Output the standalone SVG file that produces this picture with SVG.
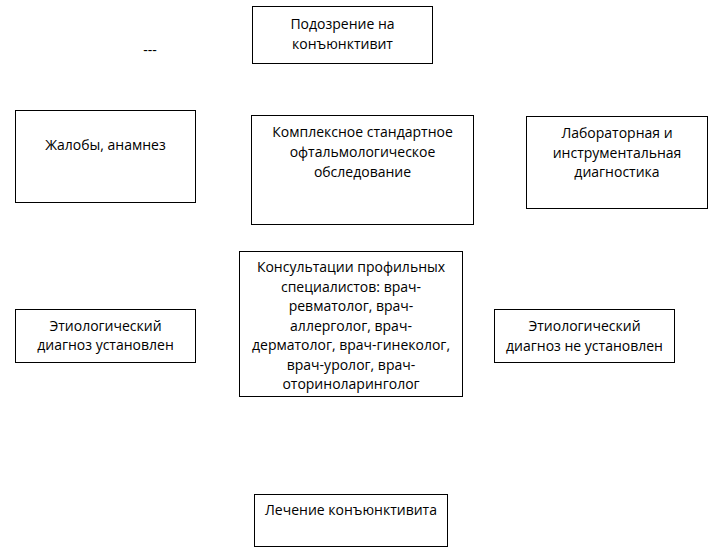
<svg xmlns="http://www.w3.org/2000/svg" width="715" height="553" viewBox="0 0 715 553">
<style>
rect.box { fill: #ffffff; stroke: #000000; stroke-width: 1; }
text { font-family: "Open Sans", "Liberation Sans", Arial, sans-serif; font-size: 14px; fill: #000000; text-anchor: middle; }
</style>
<rect x="0" y="0" width="715" height="553" fill="#ffffff"/>
<text x="150" y="55">---</text>
<g id="connectors"></g>
<g id="node-suspicion">
<rect class="box" x="252.5" y="6.5" width="180" height="57"/>
<text x="342.5" y="29">Подозрение на</text>
<text x="342.5" y="49">конъюнктивит</text>
</g>
<g id="node-complaints">
<rect class="box" x="15.5" y="110.5" width="180" height="92"/>
<text x="105.5" y="150">Жалобы, анамнез</text>
</g>
<g id="node-exam">
<rect class="box" x="251.5" y="115.5" width="222" height="109"/>
<text x="362.5" y="137">Комплексное стандартное</text>
<text x="362.5" y="157">офтальмологическое</text>
<text x="362.5" y="177">обследование</text>
</g>
<g id="node-lab">
<rect class="box" x="526.5" y="116.5" width="181" height="92"/>
<text x="617" y="138">Лабораторная и</text>
<text x="617" y="158">инструментальная</text>
<text x="617" y="177">диагностика</text>
</g>
<g id="node-consult">
<rect class="box" x="239.5" y="251.5" width="223" height="145"/>
<text x="351" y="272">Консультации профильных</text>
<text x="351" y="292">специалистов: врач-</text>
<text x="351" y="311">ревматолог, врач-</text>
<text x="351" y="331">аллерголог, врач-</text>
<text x="351" y="350">дерматолог, врач-гинеколог,</text>
<text x="351" y="370">врач-уролог, врач-</text>
<text x="351" y="389">оториноларинголог</text>
</g>
<g id="node-established">
<rect class="box" x="15.5" y="309.5" width="180" height="53"/>
<text x="105.5" y="331">Этиологический</text>
<text x="105.5" y="350">диагноз установлен</text>
</g>
<g id="node-not-established">
<rect class="box" x="494.5" y="309.5" width="180" height="53"/>
<text x="584.5" y="331">Этиологический</text>
<text x="584.5" y="351">диагноз не установлен</text>
</g>
<g id="node-treatment">
<rect class="box" x="254.5" y="494.5" width="193" height="52"/>
<text x="351" y="515">Лечение конъюнктивита</text>
</g>
</svg>
